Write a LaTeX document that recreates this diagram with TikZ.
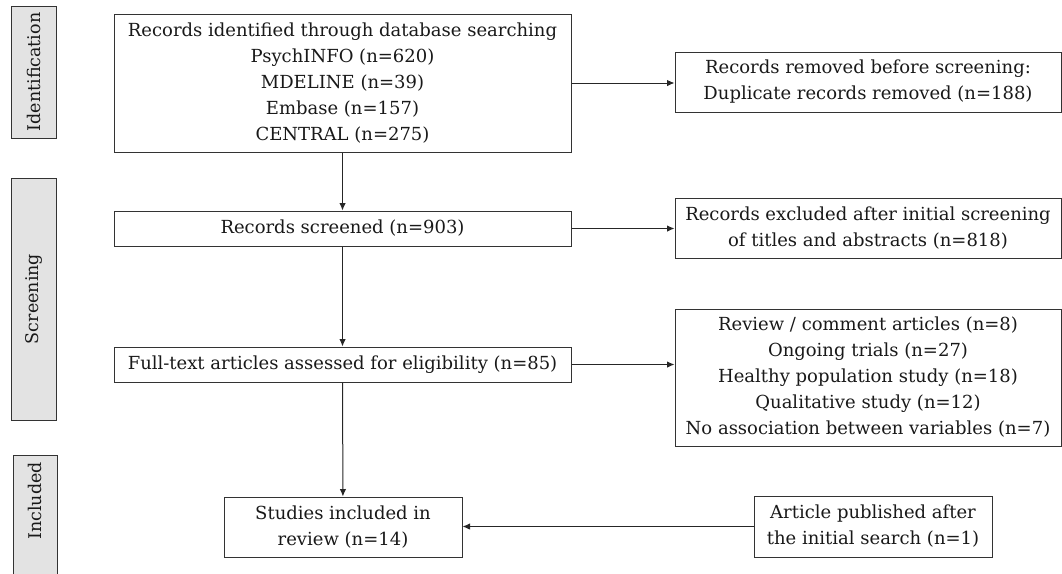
\documentclass[tikz,border=0pt]{standalone}
\usepackage{fontspec}
\setmainfont{DejaVu Serif}
\usetikzlibrary{arrows.meta}

\begin{document}
\begin{tikzpicture}[x=1pt,y=-1pt,
  box/.style={draw=black!80,line width=1pt,inner sep=0pt,align=center,text=black!90,font=\fontsize{18}{26}\selectfont},
  phasetext/.style={inner sep=0pt,rotate=90,text=black!90,font=\fontsize{17.5}{20}\selectfont},
  phase/.style={phasetext,draw=black!80,fill=black!11,line width=1pt},
  flow/.style={line width=1pt,draw=black!85,-{Latex[length=7.5pt,width=6.5pt]}}]
\useasboundingbox (0,0) rectangle (1062,573);

% stages
\node at (33.5,72) [phase,minimum width=132pt,minimum height=45pt] (idphase) {Identification};
\node at (33.5,299) [phase,minimum width=242pt,minimum height=45pt] (scphase) {Screening};
\node at (35,527) [phase,minimum width=144pt,minimum height=44pt] (inphase) {};
\node at (35,501) [phasetext] (intext) {Included};

% main column
\node at (342.5,83) [box,minimum width=457pt,minimum height=138pt] (ident) {Records identified through database searching\\PsychINFO (n=620)\\MDELINE (n=39)\\Embase (n=157)\\CENTRAL (n=275)};
\node at (342.5,228.5) [box,minimum width=457pt,minimum height=35pt] (screened) {Records screened (n=903)};
\node at (342.5,364.5) [box,minimum width=457pt,minimum height=35pt] (fulltext) {Full-text articles assessed for eligibility (n=85)};
\node at (343,527) [box,minimum width=238pt,minimum height=60pt] (included) {Studies included in\\review (n=14)};

% side boxes
\node at (868,82) [box,minimum width=386pt,minimum height=60pt] (removed) {Records removed before screening:\\Duplicate records removed (n=188)};
\node at (868,228) [box,minimum width=386pt,minimum height=60pt] (excluded) {Records excluded after initial screening\\of titles and abstracts (n=818)};
\node at (868,377.5) [box,minimum width=386pt,minimum height=137pt] (reasons) {Review / comment articles (n=8)\\Ongoing trials (n=27)\\Healthy population study (n=18)\\Qualitative study (n=12)\\No association between variables (n=7)};
\node at (873,526.5) [box,minimum width=238pt,minimum height=61pt] (late) {Article published after\\the initial search (n=1)};

% arrows
\draw[flow] (ident) -- (screened);
\draw[flow] (screened) -- (fulltext);
\draw[flow] (fulltext) -- (included);
\draw[flow] (ident.east) -- (ident.east -| removed.west);
\draw[flow] (screened.east) -- (screened.east -| excluded.west);
\draw[flow] (fulltext.east) -- (fulltext.east -| reasons.west);
\draw[flow] (late.west) -- (late.west -| included.east);
\end{tikzpicture}
\end{document}
